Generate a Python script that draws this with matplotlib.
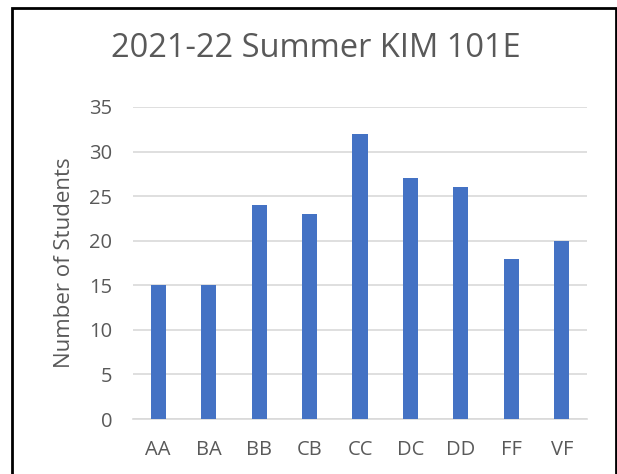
import matplotlib.pyplot as plt
from matplotlib.patches import Rectangle

grades = ['AA', 'BA', 'BB', 'CB', 'CC', 'DC', 'DD', 'FF', 'VF']
students = [15, 15, 24, 23, 32, 27, 26, 18, 20]

plt.rcParams['font.family'] = ['Open Sans', 'DejaVu Sans']
txt = '#595959'

fig = plt.figure(figsize=(6.17, 4.74), dpi=100)
ax = fig.add_axes([0.2156, 0.116, 0.7358, 0.6583])

x = range(len(grades))
ax.bar(x, students, width=0.3, color='#4472C4', zorder=3)
ax.set_xlim(-0.5, len(grades) - 0.5)
ax.set_ylim(0, 35)
ax.set_yticks(range(0, 36, 5))
ax.set_xticks(list(x))
ax.set_xticklabels(grades)
ax.grid(axis='y', color='#D9D9D9', linewidth=1.2, zorder=0)
for s in ['top', 'right', 'left']:
    ax.spines[s].set_visible(False)
ax.spines['bottom'].set_color('#D9D9D9')
ax.spines['bottom'].set_linewidth(1.2)
ax.tick_params(axis='y', length=0, pad=15, labelsize=14.5, labelcolor=txt)
ax.tick_params(axis='x', length=0, pad=15, labelsize=14.5, labelcolor=txt)
ax.set_ylabel('Number of Students', fontsize=16, color=txt, labelpad=10)

fig.text(0.512, 0.898, '2021-22 Summer KIM 101E', ha='center', va='center',
         fontsize=23.5, color=txt)

# chart border (bottom edge is cut off in the original)
fig.add_artist(Rectangle((0.0194, -0.05), 0.9786, 1.033, transform=fig.transFigure,
                         fill=False, edgecolor='black', linewidth=2))

fig.savefig('out.png', dpi=100)
